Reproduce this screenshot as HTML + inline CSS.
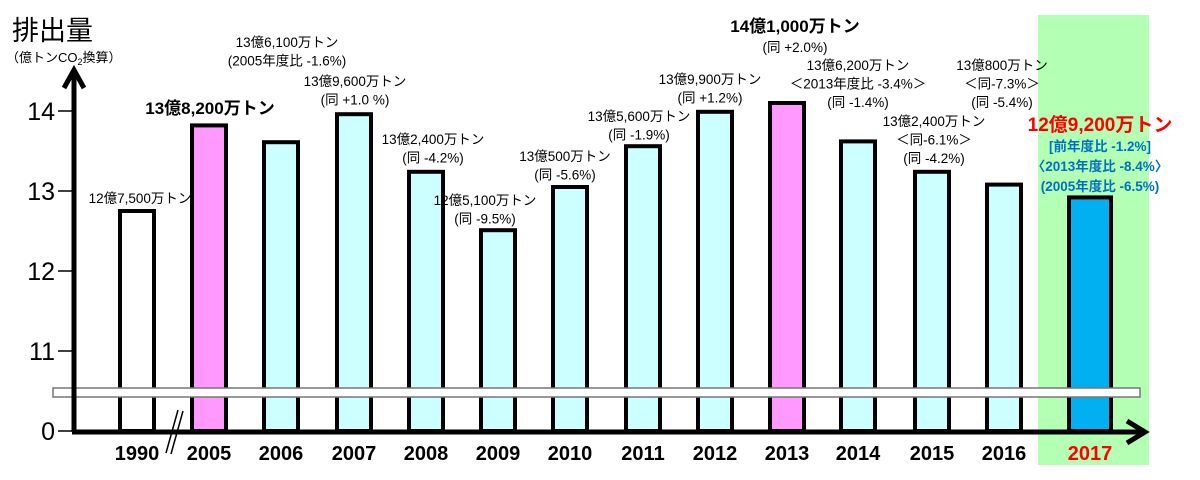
<!DOCTYPE html>
<html><head><meta charset="utf-8"><style>
body{margin:0;background:#fff}
svg{display:block;font-family:"Liberation Sans","Noto Sans CJK JP",sans-serif}
</style></head><body>
<svg id="c" width="1200" height="480" viewBox="0 0 1200 480">
<rect x="1038" y="15" width="111" height="450" fill="#b3ffb3"/>
<text x="12" y="40" font-size="27">排出量</text>
<text x="6" y="62" font-size="13">（億トンCO<tspan font-size="9" dy="3">2</tspan><tspan dy="-3">換算）</tspan></text>
<g id="bars"></g><g id="labels"></g><g id="axes"></g>
</svg>
<script>
const years=["1990","2005","2006","2007","2008","2009","2010","2011","2012","2013","2014","2015","2016","2017"];
const values=[12.75,13.82,13.61,13.96,13.24,12.51,13.05,13.56,13.99,14.10,13.62,13.24,13.08,12.92];
const yTicks=[11,12,13,14];
const labelLines=[
["12億7,500万トン"],["13億8,200万トン"],["13億6,100万トン","(2005年度比 -1.6%)"],["13億9,600万トン","(同 +1.0 %)"],
["13億2,400万トン","(同 -4.2%)"],["12億5,100万トン","(同 -9.5%)"],["13億500万トン","(同 -5.6%)"],["13億5,600万トン","(同 -1.9%)"],
["13億9,900万トン","(同 +1.2%)"],["14億1,000万トン","(同 +2.0%)"],["13億6,200万トン","＜2013年度比 -3.4%＞","(同 -1.4%)"],
["13億2,400万トン","＜同-6.1%＞","(同 -4.2%)"],["13億800万トン","＜同-7.3%＞","(同 -5.4%)"],
["12億9,200万トン","[前年度比 -1.2%]","〈2013年度比 -8.4%〉","(2005年度比 -6.5%)"]];
const NS="http://www.w3.org/2000/svg";
const xPos=[137,209,281,354,426,498,570,643,715,787,858,932,1004,1090];
const yS=v=>351-(v-11)*80;
const fills=["#fff","#ff99ff","#ccffff","#ccffff","#ccffff","#ccffff","#ccffff","#ccffff","#ccffff","#ff99ff","#ccffff","#ccffff","#ccffff","#00b0f0"];
const lab=[[140,203],[210,114],[287,47],[355,86],[433,144],[485,205],[565,161],[639,121],[710,84],[795,32],[858,70],[934,126],[1002,70],[1100,131]];
function mk(t,a,p){const e=document.createElementNS(NS,t);for(const k in a)e.setAttribute(k,a[k]);p.appendChild(e);return e;}
const gb=document.getElementById('bars'),gl=document.getElementById('labels'),ga=document.getElementById('axes');
values.forEach((v,i)=>{
 const w=i==13?42:34,y=yS(v);
 const r=mk('rect',{x:xPos[i]-w/2,y:y,width:w,height:431-y,fill:fills[i],stroke:'#000','stroke-width':4},gb);
 
 
 const t=mk('text',{x:xPos[i],y:460,'text-anchor':'middle','font-size':20,'font-weight':'bold',fill:i==13?'#ff0000':'#000'},gl);
 t.textContent=years[i];
 
 
 labelLines[i].forEach((s,j)=>{
  const bold=(i==1||i==9||i==13);
  let fs=13.5,fw='normal',col='#000',dy=j*18.5;
  if(j==0&&bold){fs=i==13?19:17;fw='bold';}
  if(i==13){if(j==0)col='#ff0000';else{col='#0070c0';fw='bold';fs=13.5;dy=j*20;}}
  if(i==9&&j==1)dy=20;
  const tt=mk('text',{x:lab[i][0],y:lab[i][1]+dy,'text-anchor':'middle','font-size':fs,'font-weight':fw,fill:col},gl);
  tt.textContent=s;
  
  
 });
});
const brk=mk('rect',{x:53,y:388,width:1087,height:9,fill:'#fff',stroke:'#777','stroke-width':1.5},ga);


const ya=mk('path',{d:'M74 432 V72 M64 88 L74 70 L84 88',stroke:'#000','stroke-width':5,fill:'none'},ga);


const xa=mk('path',{d:'M72 432 H1143 M1127 421 L1145 432 L1127 443',stroke:'#000','stroke-width':5,fill:'none'},ga);


const sl=mk('path',{d:'M166 453 L178 410 M171 454 L183 411',stroke:'#000','stroke-width':1.5},ga);


yTicks.concat([0]).forEach(v=>{
 const y=v==0?431:yS(v);
 const l=mk('line',{x1:58,x2:74,y1:y,y2:y,stroke:'#000','stroke-width':1.5},ga);
 
 
 const t=mk('text',{x:55,y:y+9,'text-anchor':'end','font-size':25},ga);
 t.textContent=v;
 
 
});
</script>
</body></html>
